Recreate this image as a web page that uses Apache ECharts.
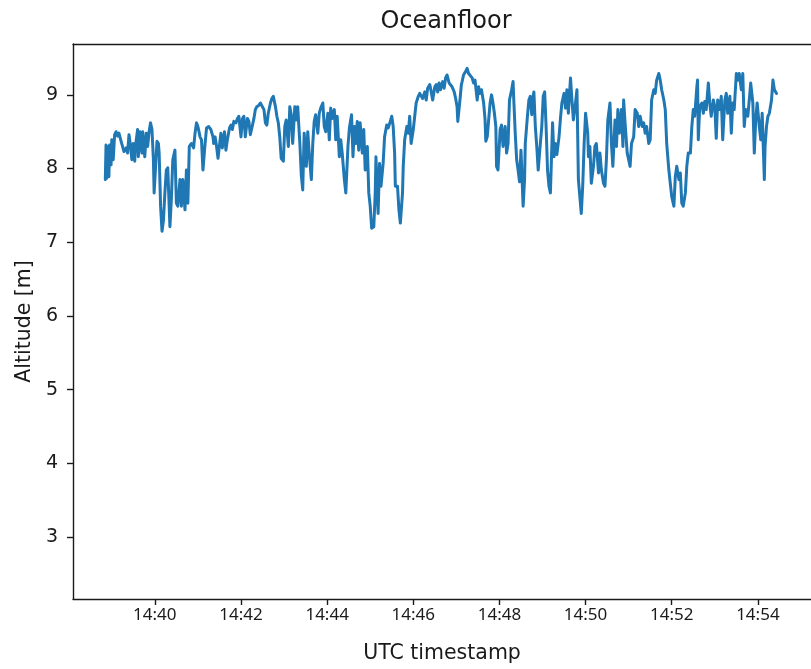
<!DOCTYPE html>
<html>
<head>
<meta charset="utf-8">
<title>Oceanfloor</title>
<script src="https://cdn.jsdelivr.net/npm/echarts@6/dist/echarts.min.js"></script>
<style>
  html, body { margin: 0; padding: 0; background: #fff; }
  #chart { width: 811px; height: 669px; }
</style>
</head>
<body>
<div id="chart"></div>
<script>
// Altitude above the ocean floor, sampled over one dive (UTC)
const timestamps = [
  '14:38:51','14:38:52','14:38:53','14:38:54','14:38:56','14:38:57','14:38:59','14:39:00','14:39:02','14:39:04',
  '14:39:06','14:39:08','14:39:10','14:39:13','14:39:15','14:39:17','14:39:20','14:39:22','14:39:24','14:39:26',
  '14:39:28','14:39:30','14:39:32','14:39:33','14:39:36','14:39:37','14:39:39','14:39:42','14:39:43','14:39:46',
  '14:39:48','14:39:50','14:39:52','14:39:54','14:39:56','14:39:58','14:39:59','14:40:01','14:40:03','14:40:05',
  '14:40:06','14:40:08','14:40:10','14:40:12','14:40:14','14:40:16','14:40:18','14:40:21','14:40:23','14:40:25',
  '14:40:28','14:40:30','14:40:32','14:40:35','14:40:37','14:40:39','14:40:42','14:40:44','14:40:46','14:40:48',
  '14:40:51','14:40:54','14:40:56','14:40:58','14:41:00','14:41:03','14:41:05','14:41:07','14:41:10','14:41:12',
  '14:41:15','14:41:18','14:41:21',
  '14:41:22','14:41:24','14:41:26','14:41:28','14:41:30','14:41:32','14:41:34','14:41:37','14:41:39','14:41:41',
  '14:41:44','14:41:46','14:41:48','14:41:50','14:41:53','14:41:55','14:41:57','14:42:00','14:42:02','14:42:04',
  '14:42:06','14:42:09','14:42:11','14:42:13','14:42:16','14:42:18','14:42:20','14:42:22','14:42:25','14:42:27',
  '14:42:29','14:42:32','14:42:34','14:42:36','14:42:38','14:42:41','14:42:43','14:42:45','14:42:48','14:42:50',
  '14:42:52','14:42:54','14:42:56','14:42:59','14:43:01','14:43:03','14:43:06','14:43:08','14:43:10','14:43:12',
  '14:43:15','14:43:17','14:43:19','14:43:22','14:43:24','14:43:26','14:43:28','14:43:31','14:43:33','14:43:35',
  '14:43:38','14:43:40','14:43:42','14:43:44','14:43:47','14:43:49','14:43:51','14:43:54','14:43:56',
  '14:43:58','14:44:01','14:44:03','14:44:05','14:44:07','14:44:10','14:44:12','14:44:14','14:44:17','14:44:19',
  '14:44:21','14:44:24','14:44:26','14:44:28','14:44:29','14:44:31','14:44:34','14:44:36','14:44:38','14:44:40',
  '14:44:42','14:44:44','14:44:46','14:44:49','14:44:51','14:44:53','14:44:56','14:44:58','14:45:00','14:45:02',
  '14:45:05','14:45:07','14:45:08','14:45:11','14:45:13','14:45:15','14:45:18','14:45:20','14:45:23','14:45:25',
  '14:45:28','14:45:30','14:45:32','14:45:34','14:45:35','14:45:38','14:45:40','14:45:42','14:45:45','14:45:46',
  '14:45:48','14:45:51','14:45:53','14:45:55','14:45:57','14:46:00','14:46:02','14:46:04','14:46:07','14:46:09',
  '14:46:11','14:46:13','14:46:16','14:46:18','14:46:20','14:46:23','14:46:25','14:46:27','14:46:30','14:46:32',
  '14:46:34','14:46:36','14:46:38','14:46:41','14:46:43','14:46:45','14:46:47','14:46:50','14:46:52','14:46:54',
  '14:46:57','14:46:59','14:47:01','14:47:02','14:47:05','14:47:07','14:47:08','14:47:10','14:47:13','14:47:15',
  '14:47:17','14:47:19','14:47:22','14:47:24','14:47:26','14:47:29','14:47:31','14:47:33','14:47:35','14:47:38',
  '14:47:40','14:47:41','14:47:43','14:47:45','14:47:47','14:47:49','14:47:51','14:47:53','14:47:55','14:47:56',
  '14:47:58','14:48:01','14:48:03','14:48:05','14:48:08','14:48:10','14:48:12','14:48:14','14:48:17','14:48:19',
  '14:48:20','14:48:22','14:48:24','14:48:26','14:48:28','14:48:30','14:48:33','14:48:35','14:48:36','14:48:39',
  '14:48:41','14:48:43','14:48:45','14:48:46','14:48:48','14:48:50','14:48:52','14:48:54','14:48:57','14:48:59',
  '14:49:01','14:49:03','14:49:05','14:49:07','14:49:09',
  '14:49:11','14:49:14','14:49:16','14:49:18','14:49:20','14:49:23','14:49:25','14:49:27','14:49:30','14:49:32',
  '14:49:34','14:49:36','14:49:39','14:49:41','14:49:43','14:49:46','14:49:48','14:49:50','14:49:52','14:49:54',
  '14:49:56','14:49:58','14:50:00','14:50:03','14:50:04','14:50:06','14:50:08','14:50:11','14:50:13','14:50:15',
  '14:50:18','14:50:20','14:50:22','14:50:25','14:50:27','14:50:29','14:50:31','14:50:34','14:50:36','14:50:38',
  '14:50:41','14:50:43','14:50:45','14:50:47','14:50:50','14:50:52','14:50:53','14:50:55','14:50:58','14:51:00',
  '14:51:02','14:51:04','14:51:07','14:51:09','14:51:12','14:51:14','14:51:16','14:51:19','14:51:21','14:51:23',
  '14:51:25','14:51:28','14:51:30','14:51:32','14:51:35','14:51:37','14:51:39','14:51:42','14:51:44',
  '14:51:46','14:51:49','14:51:51','14:51:53','14:51:56','14:51:58','14:52:00','14:52:03','14:52:05','14:52:07',
  '14:52:10','14:52:12','14:52:14','14:52:16','14:52:19','14:52:21','14:52:23','14:52:26','14:52:28','14:52:30',
  '14:52:32','14:52:35','14:52:36','14:52:37','14:52:39','14:52:42','14:52:44','14:52:46','14:52:48','14:52:51',
  '14:52:53','14:52:55','14:52:58','14:53:00','14:53:02','14:53:04','14:53:07','14:53:09','14:53:11','14:53:14',
  '14:53:16','14:53:18','14:53:21','14:53:23','14:53:25','14:53:27','14:53:30','14:53:32','14:53:34','14:53:37',
  '14:53:39','14:53:41','14:53:43','14:53:46','14:53:48','14:53:50','14:53:53','14:53:55','14:53:57','14:53:59',
  '14:54:02','14:54:04','14:54:06','14:54:09','14:54:10','14:54:12','14:54:14','14:54:16','14:54:19','14:54:21',
  '14:54:23','14:54:26'
];

const altitude = [
  7.85,8.32,7.87,8.30,7.89,8.32,8.05,8.39,8.12,8.46,
  8.50,8.44,8.48,8.37,8.30,8.23,8.28,8.21,8.46,8.32,
  8.12,8.34,8.10,8.30,8.53,8.16,8.50,8.21,8.50,8.16,
  8.48,8.30,8.50,8.62,8.53,8.12,7.67,7.67,8.37,8.34,
  8.21,7.49,7.15,7.30,7.67,7.98,8.01,7.21,7.58,8.12,
  8.25,7.53,7.49,7.85,7.49,7.85,7.44,7.98,7.53,8.30,
  8.34,8.28,8.48,8.62,8.57,8.43,8.39,7.98,8.34,8.55,
  8.57,8.53,8.43,
  8.34,8.43,8.30,8.14,8.16,8.48,8.28,8.50,8.25,8.39,
  8.55,8.59,8.53,8.64,8.62,8.68,8.71,8.43,8.68,8.71,
  8.43,8.68,8.64,8.46,8.59,8.68,8.80,8.84,8.86,8.89,
  8.91,8.80,8.62,8.59,8.75,8.89,8.95,8.98,8.84,8.71,
  8.62,8.43,8.14,8.10,8.57,8.66,8.30,8.84,8.73,8.34,
  8.84,8.66,8.84,8.34,7.91,7.71,8.48,8.03,8.50,8.21,
  7.85,8.34,8.64,8.73,8.48,8.75,8.82,8.89,8.57,
  8.50,8.75,8.39,8.82,8.68,8.80,8.39,8.71,8.16,8.39,
  8.21,7.85,7.67,7.69,8.30,8.55,8.73,8.16,8.57,8.34,
  8.64,8.25,8.62,8.21,8.53,7.98,8.30,7.67,7.49,7.19,
  7.21,7.67,8.16,7.39,8.07,7.76,8.07,8.43,8.59,8.55,
  8.64,8.71,8.57,8.21,7.76,7.76,7.44,7.26,7.67,8.03,
  8.39,8.57,8.48,8.71,8.34,8.53,8.71,8.89,8.98,9.02,
  9.00,8.95,9.04,8.93,9.09,9.14,9.04,8.93,9.11,9.14,
  9.04,9.16,9.07,9.18,9.09,9.23,9.27,9.16,9.16,9.11,
  9.04,8.95,8.84,8.64,8.93,9.14,9.18,9.27,9.32,9.36,
  9.29,9.27,9.23,9.16,9.20,8.93,9.11,9.02,9.07,8.89,
  8.66,8.37,8.43,8.66,8.89,9.00,8.89,8.75,8.57,8.03,
  7.98,8.53,8.59,8.30,8.57,8.21,8.34,8.93,9.07,9.18,
  8.93,8.48,8.12,7.98,7.82,8.25,7.49,7.85,8.34,8.71,
  8.93,8.98,8.73,8.93,9.04,8.57,8.30,7.98,8.34,8.57,
  8.98,9.04,8.57,7.98,7.76,
  7.67,8.62,8.16,8.34,8.19,8.43,8.68,8.89,9.02,8.82,
  9.07,8.75,9.23,8.93,8.66,8.89,9.07,7.85,7.62,7.39,
  7.76,8.34,8.75,8.48,8.16,8.30,7.80,8.03,8.30,8.34,
  7.94,8.21,7.98,7.80,7.76,8.12,8.66,8.89,8.34,8.03,
  8.66,8.30,8.80,8.48,8.80,8.30,8.93,8.62,8.21,8.12,
  8.03,8.34,8.43,8.80,8.75,8.57,8.71,8.57,8.62,8.48,
  8.57,8.34,8.39,8.93,9.07,9.02,9.20,9.29,9.20,
  9.07,8.93,8.80,8.34,7.98,7.80,7.62,7.49,7.89,8.03,
  7.85,7.94,7.53,7.49,7.67,8.03,8.21,8.21,8.57,8.80,
  8.71,9.11,9.20,8.39,8.84,8.89,8.75,8.91,8.80,9.16,
  8.89,8.71,8.93,8.84,8.41,8.93,8.80,8.98,8.39,8.93,
  9.02,8.75,8.98,8.48,8.89,8.80,9.29,9.20,9.29,9.07,
  9.29,8.57,8.80,8.71,8.93,9.16,8.89,8.21,8.66,8.89,
  8.57,8.39,8.75,7.85,8.30,8.57,8.71,8.75,8.93,9.20,
  9.07,9.02
];

const xTickLabels = ['14:40', '14:42', '14:44', '14:46', '14:48', '14:50', '14:52', '14:54'];
const yTicks = [3, 4, 5, 6, 7, 8, 9];
const xRange = ['14:38:06', '14:55:14'];
const yRange = [2.16, 9.69];

// clock strings -> epoch milliseconds on a fixed UTC day
function toMs(clock) {
  const p = clock.split(':').map(Number);
  return Date.UTC(2000, 0, 1, p[0], p[1], p[2] || 0);
}
function fmtClock(ms) {
  const d = new Date(ms);
  const hh = String(d.getUTCHours()).padStart(2, '0');
  const mm = String(d.getUTCMinutes()).padStart(2, '0');
  return hh + ':' + mm;
}

const seriesData = timestamps.map((t, i) => [toMs(t), altitude[i]]);
const xTickValues = xTickLabels.map(toMs);

const chart = echarts.init(document.getElementById('chart'), null, { renderer: 'canvas' });
const textColor = '#1a1a1a';
const spine = { color: '#1a1a1a', width: 1.4 };

chart.setOption({
  animation: false,
  backgroundColor: '#ffffff',
  title: {
    text: 'Oceanfloor',
    left: 441,
    top: 5,
    textAlign: 'center',
    textStyle: { fontFamily: 'DejaVu Sans', fontSize: 24, fontWeight: 'normal', color: textColor }
  },
  grid: {
    left: 73,
    top: 44,
    width: 748,
    height: 556,
    show: false,
    containLabel: false
  },
  xAxis: [{
    type: 'value',
    position: 'bottom',
    min: toMs(xRange[0]),
    max: toMs(xRange[1]),
    name: 'UTC timestamp',
    nameLocation: 'middle',
    nameGap: 44,
    nameTextStyle: { fontFamily: 'DejaVu Sans', fontSize: 20.5, color: textColor },
    axisLine: { show: true, onZero: false, lineStyle: spine },
    splitLine: { show: false },
    axisTick: {
      show: true, length: 6, inside: false,
      customValues: xTickValues,
      lineStyle: spine
    },
    axisLabel: {
      customValues: xTickValues,
      margin: 8,
      fontFamily: 'Noto Sans',
      fontSize: 17,
      color: textColor,
      formatter: (v) => fmtClock(v)
    }
  }, {
    // top spine of the plot frame
    type: 'value',
    position: 'top',
    min: toMs(xRange[0]),
    max: toMs(xRange[1]),
    axisLine: { show: true, onZero: false, lineStyle: spine },
    axisTick: { show: false },
    axisLabel: { show: false },
    splitLine: { show: false }
  }],
  yAxis: {
    type: 'value',
    position: 'left',
    min: yRange[0],
    max: yRange[1],
    name: 'Altitude [m]',
    nameLocation: 'middle',
    nameGap: 37,
    nameRotate: 90,
    nameTextStyle: { fontFamily: 'DejaVu Sans', fontSize: 20.5, color: textColor },
    axisLine: { show: true, onZero: false, lineStyle: spine },
    splitLine: { show: false },
    axisTick: {
      show: true, length: 6, inside: false,
      customValues: yTicks,
      lineStyle: spine
    },
    axisLabel: {
      customValues: yTicks,
      margin: 15,
      fontFamily: 'DejaVu Sans',
      fontSize: 19,
      color: textColor
    }
  },
  series: [{
    type: 'line',
    xAxisIndex: 0,
    data: seriesData,
    showSymbol: false,
    symbol: 'none',
    smooth: false,
    lineStyle: { color: '#1f77b4', width: 3, join: 'round', cap: 'round' },
    emphasis: { disabled: true }
  }]
});
</script>
</body>
</html>
